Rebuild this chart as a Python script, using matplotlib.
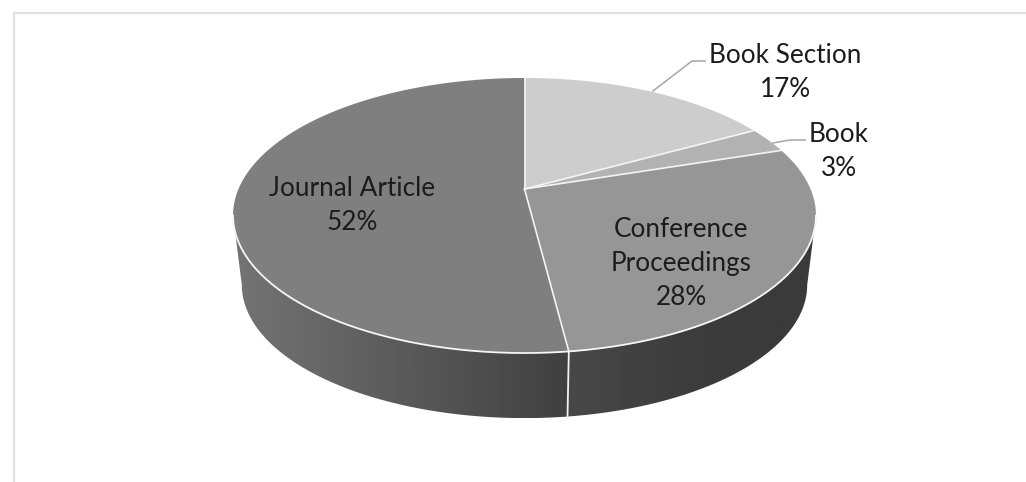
import numpy as np
import matplotlib
matplotlib.use('Agg')
import matplotlib.pyplot as plt
from matplotlib.patches import Polygon, PathPatch
from matplotlib.path import Path

# slices clockwise from 12 o'clock
labels = ['Book Section', 'Book', 'Conference\nProceedings', 'Journal Article']
shares = [17, 3, 28, 52]
top_colors = ['#cdcdcd', '#b2b2b2', '#969696', '#7f7f7f']
# wall shading, left to right, only the two front slices show a wall
wall_shades = {2: ['#484848', '#3c3c3c', '#3a3a3a'], 3: ['#747474', '#5a5a5a', '#404040']}

label_pos = [(785, 72.5), (839, 151.5), (681, 263.5), (352, 205.5)]
leaders = [[(653, 91), (692, 61), (705, 61)], [(773, 143), (790, 140), (805, 140)]]

# pie geometry in pixels, k is the perspective strength
cx = 524.5
top_y = 189.0
bottom_y = 259.0
bottom_scale = 0.97
w = 286.0
h = 132.4
k = 0.1928


def project(theta, y0=top_y, scale=1.0):
    # theta in radians, clockwise from the top of the pie
    X, Y = np.sin(theta), np.cos(theta)
    d = 1 + k * Y
    return np.column_stack([cx + scale * w * X / d, y0 - scale * h * Y / d])


fig = plt.figure(figsize=(10.26, 4.82), dpi=100)
ax = fig.add_axes([0, 0, 1, 1])
ax.set_xlim(0, 1026)
ax.set_ylim(482, 0)
ax.axis('off')

# chart area border, only top and left edges fall inside the image
ax.plot([14, 14, 1026], [482, 13, 13], color='#e2e2e2', lw=1.6, solid_joinstyle='miter')

edges = np.radians(np.cumsum([0] + shares) * 3.6)
left_tangent = np.arccos(-k) * -1 + 2 * np.pi
right_tangent = np.arccos(-k)

# side walls first, the top face covers whatever overlaps
for i, shades in wall_shades.items():
    a = max(edges[i], right_tangent)
    b = min(edges[i + 1], left_tangent)
    t = np.linspace(a, b, 200)
    outline = np.vstack([project(t), project(t[::-1], bottom_y, bottom_scale)])
    xmin, xmax = outline[:, 0].min(), outline[:, 0].max()
    ymin, ymax = outline[:, 1].min(), outline[:, 1].max()
    levels = np.array([int(c[1:3], 16) / 255 for c in shades])
    xs = np.linspace(0, 1, 256)
    grad = np.interp(xs, np.linspace(0, 1, len(levels)), levels)
    im = ax.imshow(grad[None, :], cmap='gray', vmin=0, vmax=1, aspect='auto',
                   extent=[xmin, xmax, ymax, ymin], zorder=1)
    im.set_clip_path(PathPatch(Path(outline), transform=ax.transData))
ax.set_xlim(0, 1026)
ax.set_ylim(482, 0)

# white seam between the two walls
seam = edges[3]
p_top = project(np.array([seam]))[0]
p_bot = project(np.array([seam]), bottom_y, bottom_scale)[0]
ax.plot([p_top[0], p_bot[0]], [p_top[1], p_bot[1]], color='#f2f2f2', lw=1.3, zorder=2)

# top face
apex = np.array([[cx, top_y]])
for i, color in enumerate(top_colors):
    t = np.linspace(edges[i], edges[i + 1], 200)
    pts = np.vstack([apex, project(t)])
    ax.add_patch(Polygon(pts, closed=True, facecolor=color, edgecolor='none', zorder=3))
for e in edges[:4]:
    p = project(np.array([e]))[0]
    ax.plot([cx, p[0]], [top_y, p[1]], color='#f4f4f4', lw=1.2, zorder=4)

# white rim along the front of the top face
t = np.linspace(right_tangent, left_tangent, 300)
rim = project(t)
ax.plot(rim[:, 0], rim[:, 1], color='#f6f6f6', lw=1.3, zorder=4)

for line in leaders:
    xs, ys = zip(*line)
    ax.plot(xs, ys, color='#a6a6a6', lw=1.1, zorder=4)

for label, share, (x, y) in zip(labels, shares, label_pos):
    ax.text(x, y, '%s\n%d%%' % (label, share), ha='center', va='center', family='Lato',
            fontsize=18.8, color='#1c1c1c', linespacing=1.47, zorder=5)

fig.savefig('out.png', dpi=100)
